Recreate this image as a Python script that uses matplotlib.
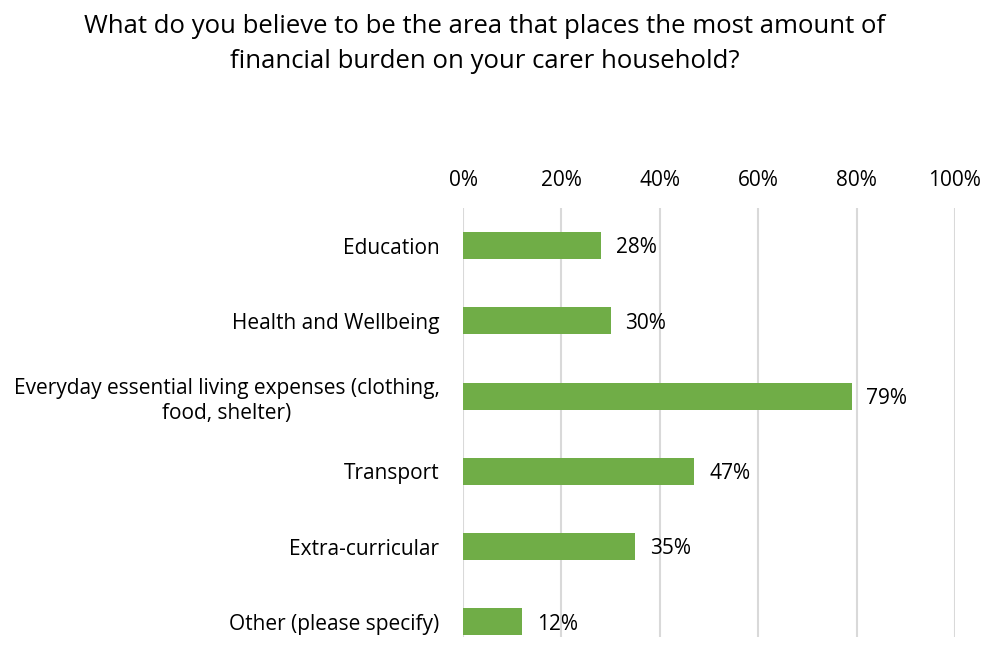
import matplotlib.pyplot as plt
from matplotlib.ticker import FuncFormatter

plt.rcParams['font.family'] = ['Open Sans', 'DejaVu Sans']

categories = ['Education', 'Health and Wellbeing',
              'Everyday essential living expenses (clothing,\nfood, shelter)',
              'Transport', 'Extra-curricular', 'Other (please specify)']
values = [28, 30, 79, 47, 35, 12]
ticks = [0, 20, 40, 60, 80, 100]
title = ('What do you believe to be the area that places the most amount of\n'
         'financial burden on your carer household?')

fig = plt.figure(figsize=(9.85, 6.52), dpi=100)
ax = fig.add_axes([463 / 985, 1 - 637 / 652, 492 / 985, 429 / 652])

ypos = range(len(categories))
ax.barh(ypos, values, height=0.36, color='#70ad47', zorder=3)
for y, v in zip(ypos, values):
    ax.text(v + 3, y + 0.03, f'{v}%', va='center', ha='left', fontsize=15, color='#000000')

ax.set_xlim(0, 100)
ax.set_ylim(5.2, -0.5)
ax.set_yticks(list(ypos))
ax.set_yticklabels(categories, fontsize=15, multialignment='center', linespacing=1.3)
ax.set_xticks(ticks)
ax.xaxis.set_major_formatter(FuncFormatter(lambda x, p: f'{x:.0f}%'))
ax.xaxis.tick_top()
ax.tick_params(axis='x', length=0, pad=12, labelsize=15)
ax.tick_params(axis='y', length=0, pad=17)
ax.grid(axis='x', color='#d9d9d9', linewidth=1.5, zorder=0)
for s in ax.spines.values():
    s.set_visible(False)

fig.text(485 / 985, 1 - 44 / 652, title, ha='center', va='center', fontsize=18.5,
         linespacing=1.5)

fig.savefig('out.png', dpi=100)
